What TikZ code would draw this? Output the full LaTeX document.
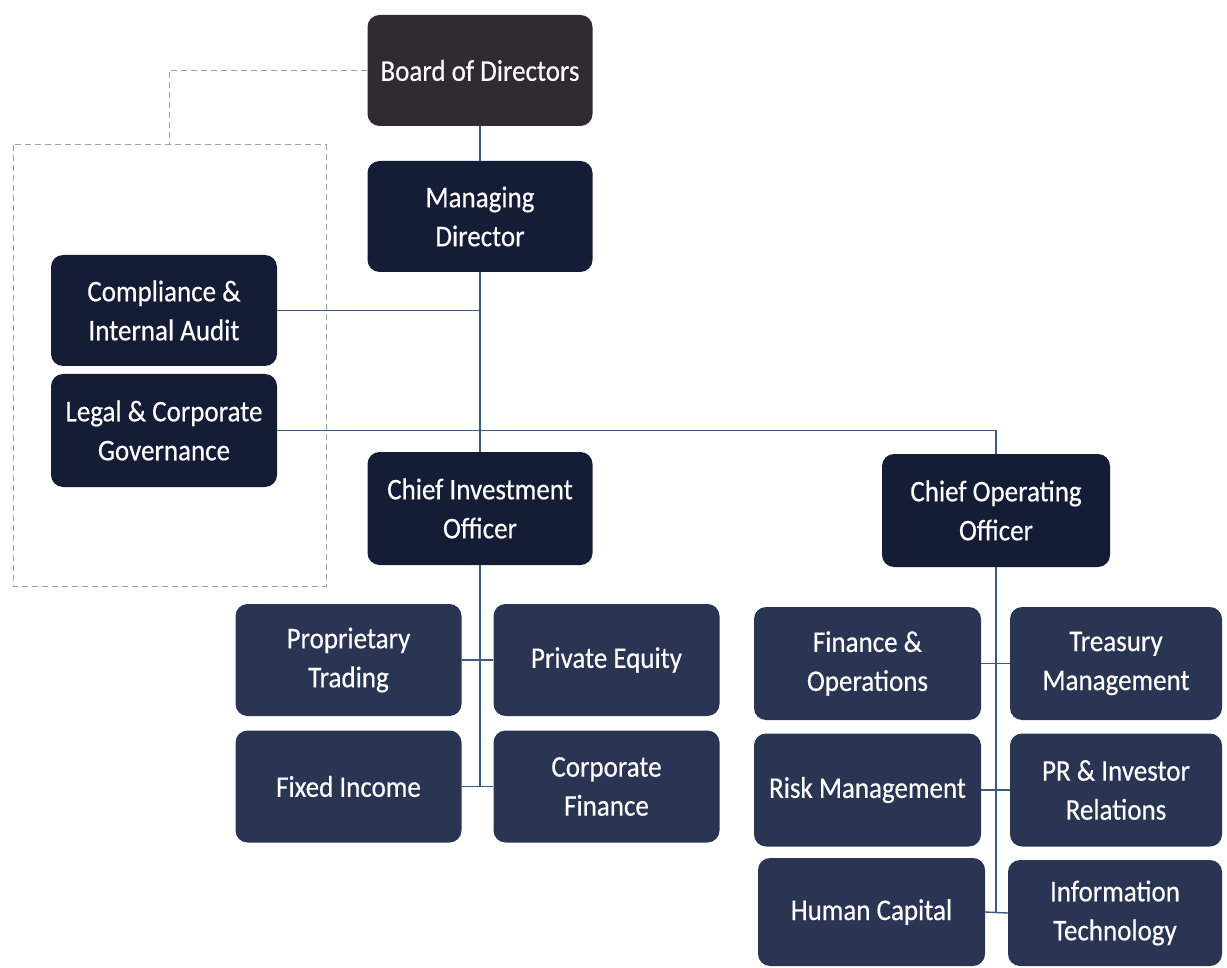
\documentclass[tikz,border=0pt]{standalone}
\usepackage{fontspec}
\setmainfont{Carlito}[FakeStretch=0.9,FakeBold=0.4]
\usetikzlibrary{positioning}
\definecolor{boardc}{HTML}{2F2B31}
\definecolor{darkc}{HTML}{141C36}
\definecolor{midc}{HTML}{2A3553}
\definecolor{linec}{HTML}{3A5A80}
\definecolor{dashc}{HTML}{A0A0A0}
\begin{document}
\begin{tikzpicture}[x=1pt,y=-1pt,
  box/.style={rounded corners=12pt, text=white, align=center, inner sep=0pt,
    font=\fontsize{30}{39}\selectfont, minimum width=226pt, minimum height=112pt},
  topbox/.style={box, fill=darkc},
  subbox/.style={box, fill=midc},
  conn/.style={draw=linec, line width=1.4pt},
  dashline/.style={draw=dashc, line width=1pt, dash pattern=on 6pt off 4pt}]
\useasboundingbox (0,0) rectangle (1227,968);
% nodes
\node[box, fill=boardc, minimum width=225pt, minimum height=111pt] (board) at (480,70.5) {Board of Directors};
\node[topbox, minimum width=225pt, minimum height=111pt] (md) at (480,216.5) {Managing\\Director};
\node[topbox, minimum height=111pt] (comp) at (164,310.5) {Compliance \&\\Internal Audit};
\node[topbox, minimum height=113pt] (legal) at (164,430.5) {Legal \& Corporate\\Governance};
\node[topbox, minimum width=225pt, minimum height=113pt] (cio) at (480,508.5) {Chief Investment\\Officer};
\node[topbox, minimum width=228pt, minimum height=113pt] (coo) at (996,510.5) {Chief Operating\\Officer};
\node[subbox] (prop) at (348.5,660) {Proprietary\\Trading};
\node[subbox] (pe) at (606.5,660) {Private Equity};
\node[subbox] (fi) at (348.5,786.5) {Fixed Income};
\node[subbox] (cf) at (606.5,786.5) {Corporate\\Finance};
\node[subbox, minimum width=227pt, minimum height=113pt] (fo) at (867.5,663.5) {Finance \&\\Operations};
\node[subbox, minimum width=212pt, minimum height=113pt] (tm) at (1116,663.5) {Treasury\\Management};
\node[subbox, minimum width=227pt, minimum height=113pt] (risk) at (867.5,790) {Risk Management};
\node[subbox, minimum width=212pt, minimum height=113pt] (pr) at (1116,790) {PR \& Investor\\Relations};
\node[subbox, minimum width=227pt, minimum height=108pt] (hc) at (871.5,912) {Human Capital};
\node[subbox, minimum width=214pt, minimum height=106pt] (it) at (1115,913) {Information\\Technology};
% dashed group
\coordinate (dtop) at (169,145);
\coordinate (dnw) at (13,145);
\coordinate (dse) at (326,586);
\draw[dashline] (board.west) -| (dtop);
\draw[dashline] (dnw) rectangle (dse);
% connectors
\draw[conn] (board.south) -- (md.north);
\draw[conn] (md.south) -- (cio.north);
\draw[conn] (comp.east) -- (comp.east -| md.south);
\draw[conn] (legal.east) -| (coo.north);
\draw[conn] (cio.south) -- (cio.south |- fi.east);
\draw[conn] (prop.east) -- (pe.west);
\draw[conn] (fi.east) -- (cf.west);
\draw[conn] (coo.south) -- (coo.south |- hc.east);
\draw[conn] (fo.east) -- (tm.west);
\draw[conn] (risk.east) -- (pr.west);
\draw[conn] (hc.east) -- (it.west);
\end{tikzpicture}
\end{document}
